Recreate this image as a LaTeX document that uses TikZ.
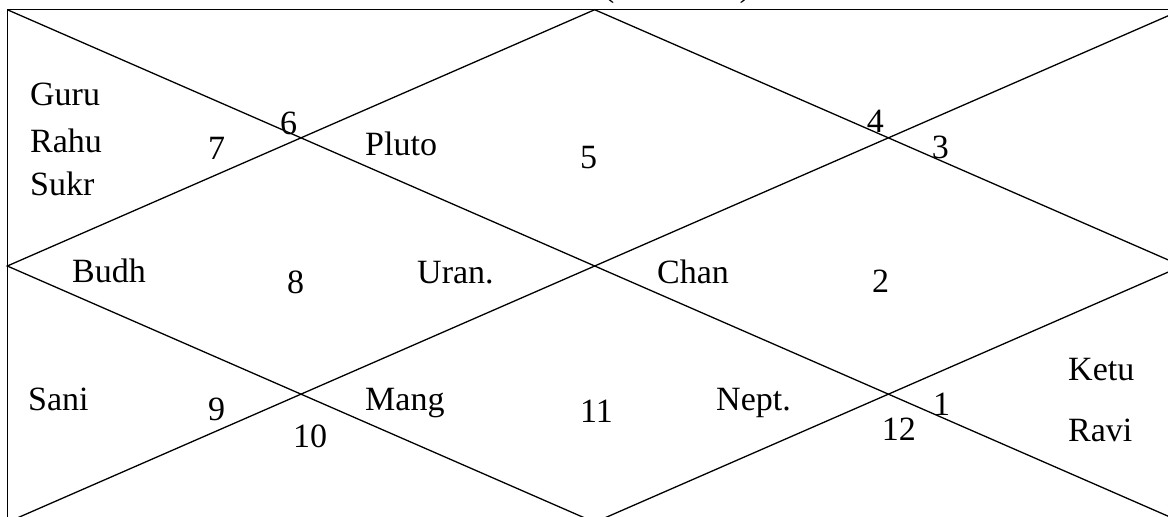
\documentclass[tikz,border=0pt]{standalone}
\usepackage{fontspec}
\setmainfont{Liberation Serif}
\begin{document}
\begin{tikzpicture}[x=1pt,y=-1pt,
  chartline/.style={line width=1.3pt,line join=miter},
  lbl/.style={anchor=base west,inner sep=0pt,font=\fontsize{34}{40}\selectfont}]
\useasboundingbox (0,0) rectangle (1168,517);
\clip (0,0) rectangle (1168,517);
\coordinate (TL) at (7.3,9.7);
\coordinate (TR) at (1182.1,9.7);
\coordinate (BL) at (7.3,522.3);
\coordinate (BR) at (1182.1,522.3);
\coordinate (T) at (594.7,9.7);
\coordinate (B) at (594.7,522.3);
\coordinate (L) at (7.3,266);
\coordinate (R) at (1182.1,266);
\draw[chartline] (TL) rectangle (BR);
\draw[chartline] (TL) -- (BR);
\draw[chartline] (BL) -- (TR);
\draw[chartline] (T) -- (L) -- (B) -- (R) -- cycle;
% cut-off title
\node[lbl] (title) at (603,-4) {(\hspace*{125pt})};
% house texts
\node[lbl] (guru) at (30,105) {Guru};
\node[lbl] (rahu) at (30,152.7) {Rahu};
\node[lbl] (sukr) at (30,195) {Sukr};
\node[lbl] (n7) at (208,159) {7};
\node[lbl] (n6) at (280,134) {6};
\node[lbl] (pluto) at (365,155) {Pluto};
\node[lbl] (n5) at (580,168) {5};
\node[lbl] (n4) at (866.7,132.7) {4};
\node[lbl] (n3) at (931.7,158) {3};
\node[lbl] (budh) at (72,282.7) {Budh};
\node[lbl] (n8) at (287,293) {8};
\node[lbl] (uran) at (417,283) {Uran.};
\node[lbl] (chan) at (657,283) {Chan};
\node[lbl] (n2) at (872,292) {2};
\node[lbl] (sani) at (28,410) {Sani};
\node[lbl] (n9) at (208,420) {9};
\node[lbl] (n10) at (293,447) {10};
\node[lbl] (mang) at (365,410) {Mang};
\node[lbl] (n11) at (580,422) {11};
\node[lbl] (nept) at (716,410) {Nept.};
\node[lbl] (n1) at (933,415) {1};
\node[lbl] (n12) at (881.7,440) {12};
\node[lbl] (ketu) at (1068,380.7) {Ketu};
\node[lbl] (ravi) at (1068,441.7) {Ravi};
\end{tikzpicture}
\end{document}
